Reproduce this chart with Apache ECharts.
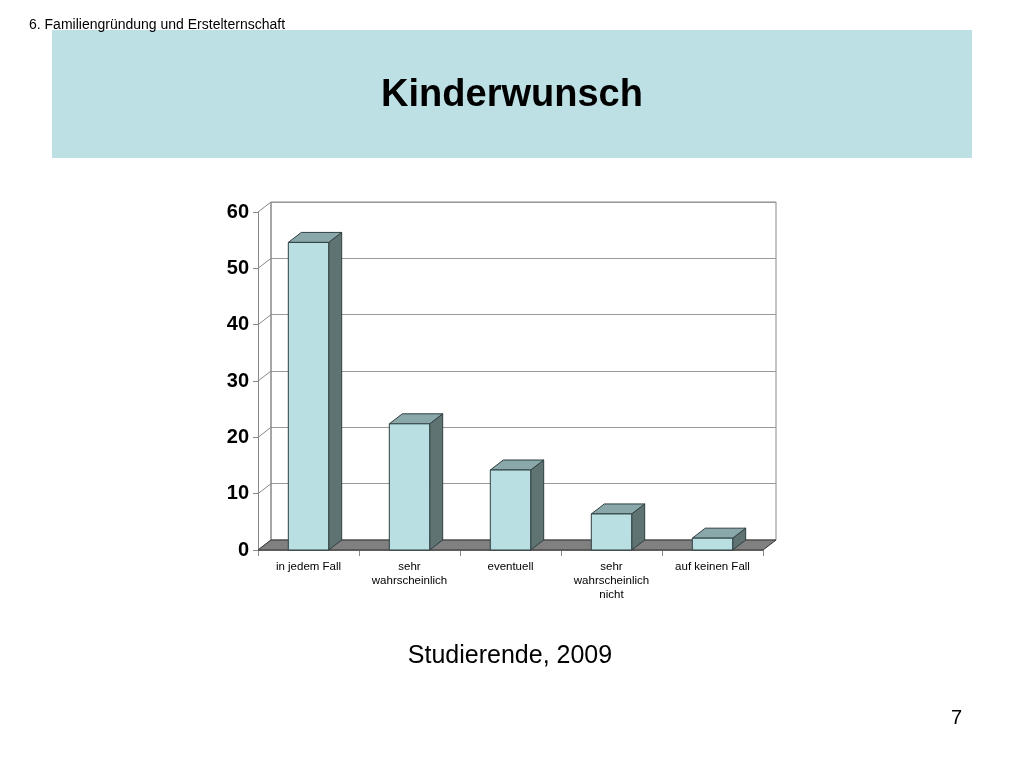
<!DOCTYPE html>
<html>
<head>
<meta charset="utf-8">
<script src="https://cdn.jsdelivr.net/npm/echarts@6/dist/echarts.min.js"></script>
<style>
  html, body { margin: 0; padding: 0; background: #fff; }
  #main { width: 1024px; height: 768px; }
</style>
</head>
<body>
<div id="main"></div>
<script>
// Kategorien und Werte (Prozent)
const categories = ["in jedem Fall", "sehr\nwahrscheinlich", "eventuell", "sehr\nwahrscheinlich\nnicht", "auf keinen Fall"];
const values = [54.6, 22.4, 14.2, 6.4, 2.1];
const yTicks = [0, 10, 20, 30, 40, 50, 60];

// 3D-Versatz (Tiefe) in Pixeln
const DX = 13;
const DY = -10;

const chart = echarts.init(document.getElementById("main"));

const font = "Arial, 'Liberation Sans', sans-serif";

const option = {
  animation: false,
  backgroundColor: "#fff",
  graphic: [
    { type: "rect", shape: { x: 52, y: 30, width: 920, height: 128 }, style: { fill: "#bce0e3" }, z: 0 },
    { type: "text", left: 29, top: 18, style: { text: "6. Familiengründung und Erstelternschaft", font: "14px " + font, fill: "#000" }, z: 10 },
    { type: "text", x: 512, y: 96, style: { text: "Kinderwunsch", font: "bold 38px " + font, fill: "#000", align: "center", verticalAlign: "middle" }, z: 10 },
    { type: "text", x: 510, y: 656, style: { text: "Studierende, 2009", font: "25px " + font, fill: "#000", align: "center", verticalAlign: "middle" }, z: 10 },
    { type: "text", x: 962, y: 718, style: { text: "7", font: "20px " + font, fill: "#000", align: "right", verticalAlign: "middle" }, z: 10 }
  ],
  grid: [
    // vordere Ebene
    { left: 258, top: 212, width: 505, height: 338 },
    // Rückwand
    { left: 258 + DX, top: 212 + DY, width: 505, height: 338, show: true, borderColor: "#888", borderWidth: 1, backgroundColor: "transparent" }
  ],
  xAxis: [
    {
      gridIndex: 0,
      type: "category",
      data: categories,
      axisLine: { show: true, lineStyle: { color: "#888", width: 1 } },
      axisTick: { show: true, length: 6, lineStyle: { color: "#888" } },
      axisLabel: { interval: 0, color: "#000", fontSize: 11.5, fontFamily: font, lineHeight: 14, margin: 10 }
    },
    {
      gridIndex: 1,
      type: "category",
      data: categories,
      show: false
    }
  ],
  yAxis: [
    {
      gridIndex: 0,
      type: "value",
      min: 0,
      max: 60,
      interval: 10,
      axisLine: { show: true, lineStyle: { color: "#888", width: 1 } },
      axisTick: { show: true, length: 5, lineStyle: { color: "#888" } },
      axisLabel: { color: "#000", fontSize: 20, fontWeight: "bold", fontFamily: font, margin: 9 },
      splitLine: { show: false }
    },
    {
      gridIndex: 1,
      type: "value",
      min: 0,
      max: 60,
      interval: 10,
      axisLine: { show: false },
      axisTick: { show: false },
      axisLabel: { show: false },
      splitLine: { show: true, lineStyle: { color: "#999", width: 1 } }
    }
  ],
  series: [
    {
      // Seitenwand-Linien und Boden
      type: "custom",
      xAxisIndex: 0,
      yAxisIndex: 0,
      data: [0],
      z: 2,
      renderItem: function (params, api) {
        const cs = params.coordSys;
        const children = [];
        yTicks.forEach(function (v) {
          const p = api.coord([0, v]);
          children.push({
            type: "line",
            shape: { x1: cs.x, y1: p[1], x2: cs.x + DX, y2: p[1] + DY },
            style: { stroke: "#888", lineWidth: 1 }
          });
        });
        children.push({
          type: "line",
          shape: { x1: cs.x + DX, y1: cs.y + DY, x2: cs.x + DX, y2: cs.y + cs.height + DY },
          style: { stroke: "#888", lineWidth: 1 }
        });
        const b = cs.y + cs.height;
        children.push({
          type: "polygon",
          shape: { points: [[cs.x, b], [cs.x + cs.width, b], [cs.x + cs.width + DX, b + DY], [cs.x + DX, b + DY]] },
          style: { fill: "#808080", stroke: "#333", lineWidth: 1 }
        });
        return { type: "group", children: children };
      }
    },
    {
      // 3D-Säulen
      type: "custom",
      xAxisIndex: 0,
      yAxisIndex: 0,
      data: values.map(function (v, i) { return [i, v]; }),
      z: 3,
      renderItem: function (params, api) {
        const top = api.coord([api.value(0), api.value(1)]);
        const base = api.coord([api.value(0), 0]);
        const w = api.size([1, 0])[0] * 0.4;
        const x0 = top[0] - w / 2;
        const x1 = top[0] + w / 2;
        const yt = top[1];
        const yb = base[1];
        const stroke = "#2f3f40";
        return {
          type: "group",
          children: [
            {
              type: "polygon",
              shape: { points: [[x1, yb], [x1 + DX, yb + DY], [x1 + DX, yt + DY], [x1, yt]] },
              style: { fill: "#5f7373", stroke: stroke, lineWidth: 1 }
            },
            {
              type: "polygon",
              shape: { points: [[x0, yt], [x1, yt], [x1 + DX, yt + DY], [x0 + DX, yt + DY]] },
              style: { fill: "#8aa8aa", stroke: stroke, lineWidth: 1 }
            },
            {
              type: "rect",
              shape: { x: x0, y: yt, width: w, height: yb - yt },
              style: { fill: "#b9dfe3", stroke: stroke, lineWidth: 1 }
            }
          ]
        };
      }
    }
  ]
};

option && chart.setOption(option);
</script>
</body>
</html>
